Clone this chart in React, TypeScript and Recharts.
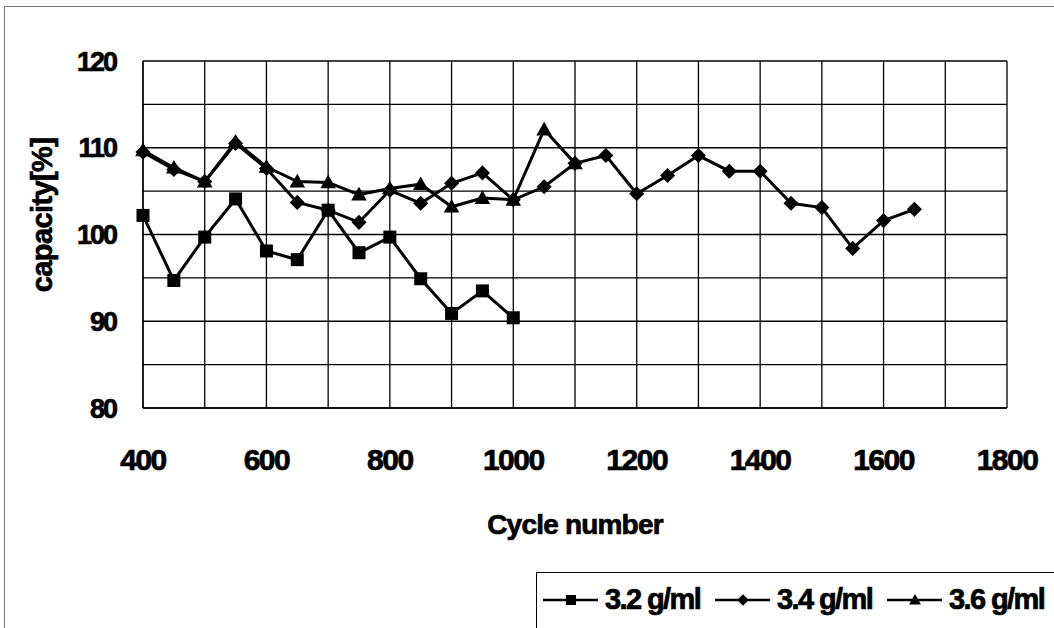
import React from "react";
import {CartesianGrid, Line, LineChart, XAxis, YAxis} from "recharts";

const cycles = [400, 450, 500, 550, 600, 650, 700, 750, 800, 850, 900, 950, 1000, 1050, 1100, 1150, 1200, 1250, 1300, 1350, 1400, 1450, 1500, 1550, 1600, 1650];
const cap32 = [102.2, 94.7, 99.7, 104.1, 98.1, 97.1, 102.8, 97.9, 99.7, 94.9, 90.9, 93.5, 90.4];
const cap34 = [109.5, 107.5, 106.1, 110.5, 107.6, 103.7, 102.8, 101.4, 105.1, 103.6, 105.9, 107.1, 104.0, 105.5, 108.2, 109.1, 104.7, 106.8, 109.1, 107.3, 107.3, 103.6, 103.1, 98.4, 101.6, 102.9];
const cap36 = [109.7, 107.7, 106.1, 110.7, 107.8, 106.1, 106.0, 104.6, 105.3, 105.8, 103.2, 104.2, 104.0, 112.1, 108.2];

const xTicks = [400, 500, 600, 700, 800, 900, 1000, 1100, 1200, 1300, 1400, 1500, 1600, 1700, 1800];
const yTicks = [80, 85, 90, 95, 100, 105, 110, 115, 120];

const seriesNames = ["3.2 g/ml", "3.4 g/ml", "3.6 g/ml"];
const seriesKeys = ["c32", "c34", "c36"];
const seriesShapes = ["square", "diamond", "triangle"];

const data = cycles.map((c, i) => ({
    cycle: c,
    c32: i < cap32.length ? cap32[i] : null,
    c34: i < cap34.length ? cap34[i] : null,
    c36: i < cap36.length ? cap36[i] : null,
}));

const font = "'Liberation Sans', Arial, sans-serif";
// heavy, slightly smeared look of the scanned text
const heavy = {fill: "#000", stroke: "#000", strokeWidth: 0.7, fontFamily: font, fontWeight: "bold"};

function Marker({shape, cx, cy, s}: any) {
    if (cx == null || cy == null) return null;
    if (shape === "square") return <rect x={cx - s / 2} y={cy - s / 2} width={s} height={s} fill="#000" />;
    if (shape === "diamond") {
        const r = s * 0.58;
        return <polygon points={`${cx},${cy - r} ${cx + r},${cy} ${cx},${cy + r} ${cx - r},${cy}`} fill="#000" />;
    }
    const r = s * 0.6;
    return <polygon points={`${cx},${cy - r} ${cx + r},${cy + r * 0.75} ${cx - r},${cy + r * 0.75}`} fill="#000" />;
}

function LegendBox() {
    return (
        <div style={{position: "absolute", left: 536, top: 572, width: 530, height: 60, borderLeft: "1px solid #000", borderTop: "1px solid #000"}}>
            <svg width={518} height={56}>
                {seriesNames.map((n, i) => {
                    const x0 = 6 + i * 172;
                    return (
                        <g key={n}>
                            <line x1={x0} x2={x0 + 55} y1={27} y2={27} stroke="#000" strokeWidth={2.5} />
                            <Marker shape={seriesShapes[i]} cx={x0 + 28} cy={27} s={10} />
                            <text x={x0 + 62} y={36} {...heavy} fontSize={29} letterSpacing={-1.6}>{n}</text>
                        </g>
                    );
                })}
            </svg>
        </div>
    );
}

export default function App() {
    return (
        <div style={{position: "absolute", left: 0, top: 0, width: 1054, height: 628, background: "#fff", overflow: "hidden"}}>
            <div style={{position: "absolute", left: 4, top: 6, width: 1060, height: 640, borderLeft: "1px solid #777", borderTop: "1px solid #777"}} />
            <LineChart width={1054} height={628} data={data} margin={{top: 61, right: 47, left: 0, bottom: 0}}>
                <CartesianGrid stroke="#000" strokeWidth={1.3} />
                <XAxis
                    dataKey="cycle"
                    type="number"
                    domain={[400, 1800]}
                    ticks={xTicks}
                    interval={0}
                    height={220}
                    tickSize={0}
                    tickMargin={41}
                    axisLine={{stroke: "#000", strokeWidth: 1.3}}
                    tickFormatter={(v: number) => (v % 200 === 0 ? String(v) : "")}
                    tick={{...heavy, fontSize: 30, letterSpacing: -1.5}}
                    label={{value: "Cycle number", position: "insideTop", offset: 106, ...heavy, fontSize: 28, letterSpacing: -0.8}}
                />
                <YAxis
                    type="number"
                    domain={[80, 120]}
                    ticks={yTicks}
                    interval={0}
                    width={143}
                    tickSize={0}
                    tickMargin={27}
                    axisLine={{stroke: "#000", strokeWidth: 1.3}}
                    tickFormatter={(v: number) => (v % 10 === 0 ? String(v) : "")}
                    tick={{...heavy, fontSize: 27, letterSpacing: -2}}
                />
                {seriesKeys.map((k, i) => (
                    <Line
                        key={k}
                        dataKey={k}
                        name={seriesNames[i]}
                        stroke="#000"
                        strokeWidth={3}
                        isAnimationActive={false}
                        connectNulls={false}
                        dot={(p: any) => <Marker key={`${k}-${p.index}`} shape={seriesShapes[i]} cx={p.cx} cy={p.cy} s={13} />}
                        activeDot={false}
                    />
                ))}
            </LineChart>
            <svg style={{position: "absolute", left: 0, top: 0}} width={80} height={400}>
                <text x={0} y={0} transform="translate(52,215) rotate(-90)" textAnchor="middle" {...heavy} fontSize={29} letterSpacing={-0.6}>capacity[%]</text>
            </svg>
            <LegendBox />
        </div>
    );
}
